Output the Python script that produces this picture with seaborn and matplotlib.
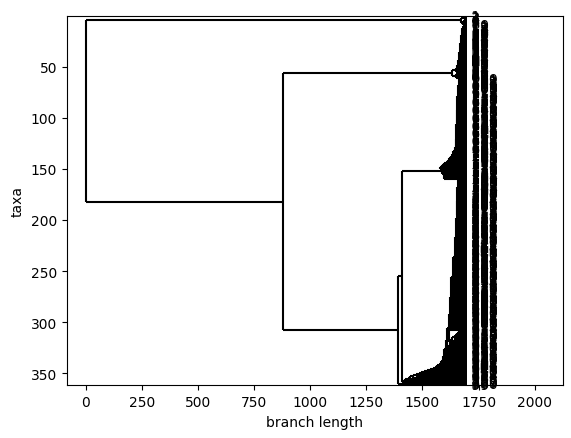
import matplotlib
matplotlib.use("Agg")
import matplotlib.pyplot as plt
import pandas as pd
import seaborn as sns

# all tips sit at the same distance from the root
tree_height = 1700

# depths of the backbone nodes
b_depth = 880
c_depth = 1633
d_depth = 1391
e_depth = 1411
g_depth = 1585
a_depth = 1674

# tip groups: number of tips and depth of the node they hang from (top to bottom)
a_sizes = [4, 5]
a_depths = [1684, 1679]

c1_sizes = [6, 10, 10, 10, 7, 1, 1, 1]
c1_depths = [1680, 1676, 1672, 1667, 1661, 1657, 1654, 1651]
c2_sizes = [3, 3]
c2_depths = [1655, 1648]

g_up_sizes = [14, 15, 15, 15, 15] + [1] * 15
g_up_depths = [1662, 1659, 1656, 1653, 1650,
               1648, 1643, 1638, 1633, 1628, 1623, 1618, 1613,
               1608, 1603, 1598, 1593, 1588, 1583, 1578]
g_down_size = 10
g_down_depth = 1598

h_upper_sizes = [15, 20, 20, 20, 20, 20, 20, 13]
h_upper_depths = [1658, 1655, 1652, 1648, 1643, 1635, 1628, 1622]

s_sizes = [3, 3, 3, 3, 2]
s_depths = [1661, 1652, 1643, 1633, 1622]
s_attach_depth = 1617

h_lower_sizes = [8, 5, 5, 2] + [1] * 17
h_lower_depths = [1610, 1603, 1597, 1590, 1583, 1575, 1567, 1556, 1545, 1532,
                  1520, 1507, 1495, 1484, 1471, 1458, 1446, 1434, 1424, 1418,
                  1414]

f_size = 2
f_depth = 1495

# tip names in drawing order
label_top = list(range(1, 9))
label_two = list(range(10, 63))
label_short = [0, 9] + list(range(63, 100))
label_long = list(range(100, 361))

tip_labels = label_top + label_two
j = 0
for i, lab in enumerate(label_long):
    tip_labels.append(lab)
    while j < len(label_short) and (i + 1) * len(label_short) // len(label_long) > j:
        tip_labels.append(label_short[j])
        j += 1
n_tips = len(tip_labels)

next_tip = [0]


def take():
    next_tip[0] += 1
    return next_tip[0]


def group(depth, n):
    return {"x": depth, "kids": [take() for _ in range(n)]}


def ladder_up(sizes, depths, node=None):
    for n, d in zip(sizes, depths):
        kids = ([node] if node is not None else []) + [take() for _ in range(n)]
        node = {"x": d, "kids": kids}
    return node


clade_a = {"x": a_depth, "kids": [group(a_depths[0], a_sizes[0]),
                                   group(a_depths[1], a_sizes[1])]}
clade_c = {"x": c_depth, "kids": [ladder_up(c1_sizes, c1_depths),
                                   ladder_up(c2_sizes, c2_depths)]}
clade_g = {"x": g_depth, "kids": [ladder_up(g_up_sizes, g_up_depths),
                                   group(g_down_depth, g_down_size)]}
h_upper = ladder_up(h_upper_sizes, h_upper_depths)
clade_s = ladder_up(s_sizes, s_depths)
h_mid = {"x": s_attach_depth, "kids": [h_upper, clade_s]}
clade_h = ladder_up(h_lower_sizes, h_lower_depths, h_mid)
clade_e = {"x": e_depth, "kids": [clade_g, clade_h]}
clade_f = group(f_depth, f_size)
clade_d = {"x": d_depth, "kids": [clade_e, clade_f]}
clade_b = {"x": b_depth, "kids": [clade_c, clade_d]}
root = {"x": 0, "kids": [clade_a, clade_b]}


def ypos(node):
    if isinstance(node, int):
        return node
    return (ypos(node["kids"][0]) + ypos(node["kids"][-1])) / 2


def xpos(node):
    return tree_height if isinstance(node, int) else node["x"]


rows = []
seg = [0]


def add(x0, y0, x1, y1):
    seg[0] += 1
    rows.append((x0, y0, seg[0]))
    rows.append((x1, y1, seg[0]))


def walk(node):
    if isinstance(node, int):
        return
    x = node["x"]
    add(x, ypos(node["kids"][0]), x, ypos(node["kids"][-1]))
    for kid in node["kids"]:
        add(x, ypos(kid), xpos(kid), ypos(kid))
        walk(kid)


walk(root)
df = pd.DataFrame(rows, columns=["x", "y", "seg"])

fig = plt.figure(figsize=(5.71, 4.39), dpi=100)
ax = fig.add_axes([0.1168, 0.1196, 0.8687, 0.8426])

sns.lineplot(data=df, x="x", y="y", units="seg", estimator=None, sort=False,
             color="black", linewidth=1.5, solid_capstyle="butt", ax=ax)

for y in range(1, n_tips + 1):
    ax.text(tree_height, y, f" {tip_labels[y - 1]}", va="center")

ax.set_xlim(-0.05 * tree_height, 1.25 * tree_height)
ax.set_ylim(n_tips + 0.8, 0.2)
ax.set_xlabel("branch length")
ax.set_ylabel("taxa")

fig.savefig("out.png", dpi=100)
plt.close(fig)
